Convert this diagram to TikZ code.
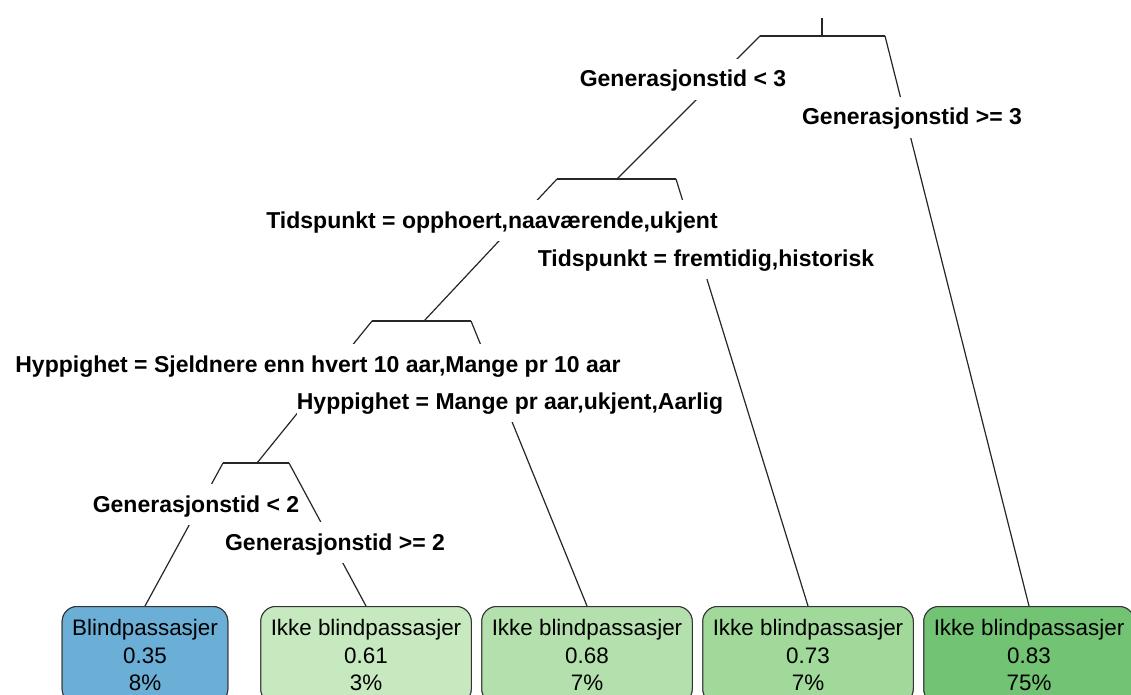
\documentclass[tikz,border=0pt]{standalone}
\usepackage{fontspec}
\setmainfont{Liberation Sans}
\definecolor{leafA}{HTML}{6BAED6}
\definecolor{leafB}{HTML}{C7E9C0}
\definecolor{leafC}{HTML}{B4E0AD}
\definecolor{leafD}{HTML}{A1D99B}
\definecolor{leafE}{HTML}{72C374}
\begin{document}
\begin{tikzpicture}[x=1pt,y=-1pt,
  branch/.style={line width=1.2pt, draw=black!85},
  split/.style={anchor=base, fill=white, font=\bfseries\fontsize{23}{27}\selectfont,
    text height=20pt, text depth=5pt, inner ysep=8pt, inner xsep=0pt},
  leaf/.style={anchor=north, draw=black!80, line width=1pt, rounded corners=15pt,
    align=center, font=\fontsize{22.4}{27.5}\selectfont, inner xsep=10pt, inner ysep=13pt},
]
\useasboundingbox (0,0) rectangle (1131,695);
\clip (0,0) rectangle (1131,695);

% split bars: stem point and both ends
\coordinate (s1) at (822,18);
\coordinate (b1) at (822,36);
\coordinate (b1L) at (760,36);
\coordinate (b1R) at (885,36);
\coordinate (b2) at (617,179);
\coordinate (b2L) at (557,179);
\coordinate (b2R) at (676,179);
\coordinate (b4) at (424,321);
\coordinate (b4L) at (372,321);
\coordinate (b4R) at (471,321);
\coordinate (b8) at (257,463);
\coordinate (b8L) at (223,463);
\coordinate (b8R) at (289,463);

% leaves (placed first so the branches can end on them)
\node[leaf, fill=leafA] (l1) at (145,606) {Blindpassasjer\\0.35\\8\%};
\node[leaf, fill=leafB] (l2) at (366,606) {Ikke blindpassasjer\\0.61\\3\%};
\node[leaf, fill=leafC] (l3) at (587,606) {Ikke blindpassasjer\\0.68\\7\%};
\node[leaf, fill=leafD] (l4) at (808,606) {Ikke blindpassasjer\\0.73\\7\%};
\node[leaf, fill=leafE] (l5) at (1029,606) {Ikke blindpassasjer\\0.83\\75\%};

% branches
\draw[branch] (s1) -- (b1);
\draw[branch] (b1L) -- (b1R);
\draw[branch] (b1L) -- (b2);
\draw[branch] (b1R) -- (l5.north);
\draw[branch] (b2L) -- (b2R);
\draw[branch] (b2L) -- (b4);
\draw[branch] (b2R) -- (l4.north);
\draw[branch] (b4L) -- (b4R);
\draw[branch] (b4L) -- (b8);
\draw[branch] (b4R) -- (l3.north);
\draw[branch] (b8L) -- (b8R);
\draw[branch] (b8L) -- (l1.north);
\draw[branch] (b8R) -- (l2.north);

% split labels, masking the branches behind them
\node[split] (g3)  at (683,87)  {Generasjonstid < 3};
\node[split] (g3r) at (912,125) {Generasjonstid >= 3};
\node[split] (t1)  at (492,228) {Tidspunkt = opphoert,naaværende,ukjent};
\node[split] (t2)  at (706,266) {Tidspunkt = fremtidig,historisk};
\node[split] (h1)  at (318,372) {Hyppighet = Sjeldnere enn hvert 10 aar,Mange pr 10 aar};
\node[split] (h2)  at (510,409) {Hyppighet = Mange pr aar,ukjent,Aarlig};
\node[split] (g2)  at (196,512) {Generasjonstid < 2};
\node[split] (g2r) at (335,550) {Generasjonstid >= 2};

% leaves drawn again on top of the branch ends
\node[leaf, fill=leafA] at (145,606) {Blindpassasjer\\0.35\\8\%};
\node[leaf, fill=leafB] at (366,606) {Ikke blindpassasjer\\0.61\\3\%};
\node[leaf, fill=leafC] at (587,606) {Ikke blindpassasjer\\0.68\\7\%};
\node[leaf, fill=leafD] at (808,606) {Ikke blindpassasjer\\0.73\\7\%};
\node[leaf, fill=leafE] at (1029,606) {Ikke blindpassasjer\\0.83\\75\%};
\end{tikzpicture}
\end{document}
